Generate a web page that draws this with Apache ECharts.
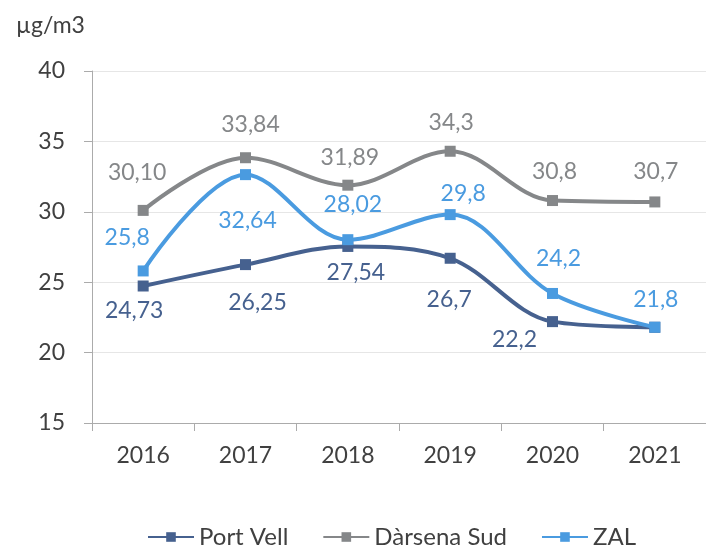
<!DOCTYPE html>
<html>
<head>
<meta charset="utf-8">
<script src="https://cdn.jsdelivr.net/npm/echarts@6/dist/echarts.min.js"></script>
<style>html,body{margin:0;padding:0;background:#fff}#c{width:706px;height:547px}</style>
</head>
<body>
<div id="c"></div>
<script>
var years = ['2016', '2017', '2018', '2019', '2020', '2021'];
var portVell = [24.73, 26.25, 27.54, 26.7, 22.2, 21.8];
var darsenaSud = [30.10, 33.84, 31.89, 34.3, 30.8, 30.7];
var zal = [25.8, 32.64, 28.02, 29.8, 24.2, 21.8];
var portVellText = ['24,73', '26,25', '27,54', '26,7', '22,2', ''];
var darsenaText = ['30,10', '33,84', '31,89', '34,3', '30,8', '30,7'];
var zalText = ['25,8', '32,64', '28,02', '29,8', '24,2', '21,8'];

var FONT = 'Lato';
var chart = echarts.init(document.getElementById('c'), null, {renderer: 'canvas'});

function build(values, texts, offsets) {
  return values.map(function (v, i) {
    return {
      value: v,
      label: {
        show: texts[i] !== '',
        formatter: texts[i],
        offset: offsets[i]
      }
    };
  });
}

var pvOff = [[-9, 25], [12, 38], [8, 26], [-1, 41], [-38, 18], [0, 0]];
var dsOff = [[-6, -38], [5, -33], [2, -28], [1, -29], [2, -29], [1, -30]];
var zalOff = [[-16, -33], [2, 46], [5, -35], [13, -21], [6, -35], [1, -28]];

function series(name, color, labelColor, data, z) {
  return {
    name: name,
    type: 'line',
    smooth: 0.35,
    symbol: 'rect',
    symbolSize: 11,
    z: z,
    lineStyle: {width: 4, color: color},
    itemStyle: {color: color},
    label: {
      position: 'inside',
      color: labelColor,
      fontFamily: FONT,
      fontSize: 23
    },
    emphasis: {disabled: true},
    data: data
  };
}

chart.setOption({
  animation: false,
  title: {
    text: 'µg/m3',
    left: 11,
    top: 9,
    textStyle: {fontFamily: FONT, fontSize: 23, fontWeight: 'normal', color: '#404040'}
  },
  legend: {
    left: 142,
    top: 520,
    itemWidth: 46,
    itemHeight: 12,
    itemGap: 34,
    textStyle: {fontFamily: FONT, fontSize: 24, color: '#404040'},
    data: ['Port Vell', 'Dàrsena Sud', 'ZAL']
  },
  grid: {left: 92, right: 0, top: 71, bottom: 124, containLabel: false},
  xAxis: {
    type: 'category',
    data: years,
    boundaryGap: true,
    axisLine: {lineStyle: {color: '#ababab', width: 1}},
    axisTick: {show: true, length: 8, lineStyle: {color: '#ababab'}},
    axisLabel: {fontFamily: FONT, fontSize: 23, color: '#404040', margin: 21}
  },
  yAxis: {
    type: 'value',
    min: 15,
    max: 40,
    interval: 5,
    axisLine: {show: true, lineStyle: {color: '#ababab', width: 1}},
    axisTick: {show: true, length: 8, lineStyle: {color: '#ababab'}},
    splitLine: {lineStyle: {color: '#e6e6e6', width: 1}},
    axisLabel: {fontFamily: FONT, fontSize: 23, color: '#404040', margin: 27}
  },
  series: [
    series('Port Vell', '#46618F', '#46618F', build(portVell, portVellText, pvOff), 3),
    series('Dàrsena Sud', '#858789', '#858789', build(darsenaSud, darsenaText, dsOff), 2),
    series('ZAL', '#4A9BE0', '#4A9BE0', build(zal, zalText, zalOff), 4)
  ]
});
</script>
</body>
</html>
